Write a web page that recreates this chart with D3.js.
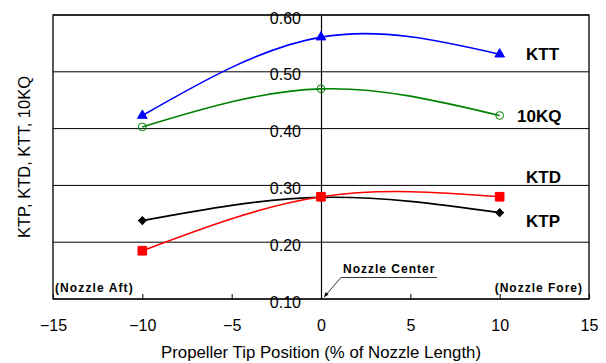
<!DOCTYPE html>
<html>
<head>
<meta charset="utf-8">
<script src="https://cdn.jsdelivr.net/npm/d3@7"></script>
<style>
  body { margin: 0; background: #fff; }
  svg { display: block; font-family: "Liberation Sans", Arial, sans-serif; }
</style>
</head>
<body>
<svg class="canvas" width="606" height="363"></svg>
<script>
// data
const positions = [-10, 0, 10];
const ktt = [0.423, 0.561, 0.531];
const kq10 = [0.403, 0.470, 0.423];
const ktd = [0.185, 0.280, 0.280];
const ktp = [0.238, 0.279, 0.252];
const xTicks = [-15, -10, -5, 0, 5, 10, 15];
const yTicks = [0.1, 0.2, 0.3, 0.4, 0.5, 0.6];

const svg = d3.select(".canvas");
const plotLeft = 53, plotRight = 589, plotTop = 15, plotBottom = 299;

// scales
const xScale = d3.scaleLinear().domain([-15, 15]).range([plotLeft, plotRight]);
const yScale = d3.scaleLinear().domain([0.1, 0.6]).range([plotBottom, plotTop]);

// horizontal gridlines
svg.append("g")
  .selectAll("line")
  .data(yTicks)
  .enter()
  .append("line")
  .attr("x1", plotLeft)
  .attr("x2", plotRight)
  .attr("y1", (d) => yScale(d))
  .attr("y2", (d) => yScale(d))
  .attr("stroke", "#000")
  .attr("stroke-width", 1);

// frame
svg.append("rect")
  .attr("x", plotLeft)
  .attr("y", plotTop)
  .attr("width", plotRight - plotLeft)
  .attr("height", plotBottom - plotTop)
  .attr("fill", "none")
  .attr("stroke", "#000")
  .attr("stroke-width", 1.3);

// x axis (ticks pointing inward)
const xAxis = d3.axisBottom(xScale)
  .tickValues(xTicks)
  .tickSize(-5)
  .tickPadding(21)
  .tickFormat((d) => (d < 0 ? "\u2212" + Math.abs(d) : d));
svg.append("g")
  .attr("transform", `translate(0, ${plotBottom})`)
  .call(xAxis)
  .call((g) => g.select(".domain").remove())
  .call((g) => g.selectAll("text").attr("font-size", 16).attr("font-family", "Liberation Sans, Arial").attr("fill", "#000"));

// y axis along x = 0
const yAxis = d3.axisLeft(yScale)
  .tickValues(yTicks)
  .tickSize(0)
  .tickPadding(20)
  .tickFormat(d3.format(".2f"));
svg.append("g")
  .attr("transform", `translate(${xScale(0)}, 0)`)
  .call(yAxis)
  .call((g) => g.select(".domain").attr("stroke", "#000").attr("stroke-width", 1.2))
  .call((g) => g.selectAll("text").attr("font-size", 16).attr("dy", "0.5em").attr("font-family", "Liberation Sans, Arial").attr("fill", "#000"));

// axis titles
svg.append("text")
  .attr("x", xScale(0))
  .attr("y", 358)
  .attr("text-anchor", "middle")
  .attr("font-size", 16.8)
  .text("Propeller Tip Position (% of Nozzle Length)");
svg.append("text")
  .attr("transform", "translate(30, 157) rotate(-90)")
  .attr("text-anchor", "middle")
  .attr("font-size", 16.5)
  .text("KTP, KTD, KTT, 10KQ");

// series
const seriesList = [
  { name: "KTT", values: ktt, color: "#0000ff", symbol: d3.symbolTriangle, size: 40, rot: 0, fill: true },
  { name: "10KQ", values: kq10, color: "#008000", symbol: d3.symbolCircle, size: 48, rot: 0, fill: false },
  { name: "KTP", values: ktp, color: "#000000", symbol: d3.symbolSquare, size: 30, rot: 45, fill: true },
  { name: "KTD", values: ktd, color: "#ff0000", symbol: d3.symbolSquare, size: 75, rot: 0, fill: true }
];

const line = d3.line()
  .x((d) => xScale(d.x))
  .y((d) => yScale(d.y))
  .curve(d3.curveNatural);

seriesList.forEach((s) => {
  const pts = positions.map((p, i) => ({ x: p, y: s.values[i] }));
  svg.append("path")
    .datum(pts)
    .attr("d", line)
    .attr("fill", "none")
    .attr("stroke", s.color)
    .attr("stroke-width", 1.6);
  svg.append("g")
    .selectAll("path")
    .data(pts)
    .enter()
    .append("path")
    .attr("d", d3.symbol().type(s.symbol).size(s.size))
    .attr("transform", (d) => `translate(${xScale(d.x)}, ${yScale(d.y)}) rotate(${s.rot})`)
    .attr("fill", s.fill ? s.color : "none")
    .attr("stroke", s.color)
    .attr("stroke-width", 1);
});

// series labels
const labels = [
  { text: "KTT", x: 526, y: 60 },
  { text: "10KQ", x: 517, y: 122 },
  { text: "KTD", x: 526, y: 183 },
  { text: "KTP", x: 526, y: 227 }
];
svg.append("g")
  .selectAll("text")
  .data(labels)
  .enter()
  .append("text")
  .attr("x", (d) => d.x)
  .attr("y", (d) => d.y)
  .attr("font-size", 17)
  .attr("font-weight", "bold")
  .text((d) => d.text);

// annotations
svg.append("text")
  .attr("x", 55)
  .attr("y", 292)
  .attr("font-size", 12)
  .attr("font-weight", "bold")
  .attr("letter-spacing", 1.1)
  .text("(Nozzle Aft)");
svg.append("text")
  .attr("x", 583)
  .attr("y", 292)
  .attr("text-anchor", "end")
  .attr("font-size", 12)
  .attr("font-weight", "bold")
  .attr("letter-spacing", 1.0)
  .text("(Nozzle Fore)");
svg.append("text")
  .attr("x", 343)
  .attr("y", 273)
  .attr("font-size", 12)
  .attr("font-weight", "bold")
  .attr("letter-spacing", 1.0)
  .text("Nozzle Center");
svg.append("path")
  .attr("d", "M437,277.5 L341,277.5 L325,296")
  .attr("fill", "none")
  .attr("stroke", "#000")
  .attr("stroke-width", 0.8);
svg.append("path")
  .attr("d", "M324,297.5 L325.5,292 L328.5,294.5 Z")
  .attr("fill", "#000");
</script>
</body>
</html>
